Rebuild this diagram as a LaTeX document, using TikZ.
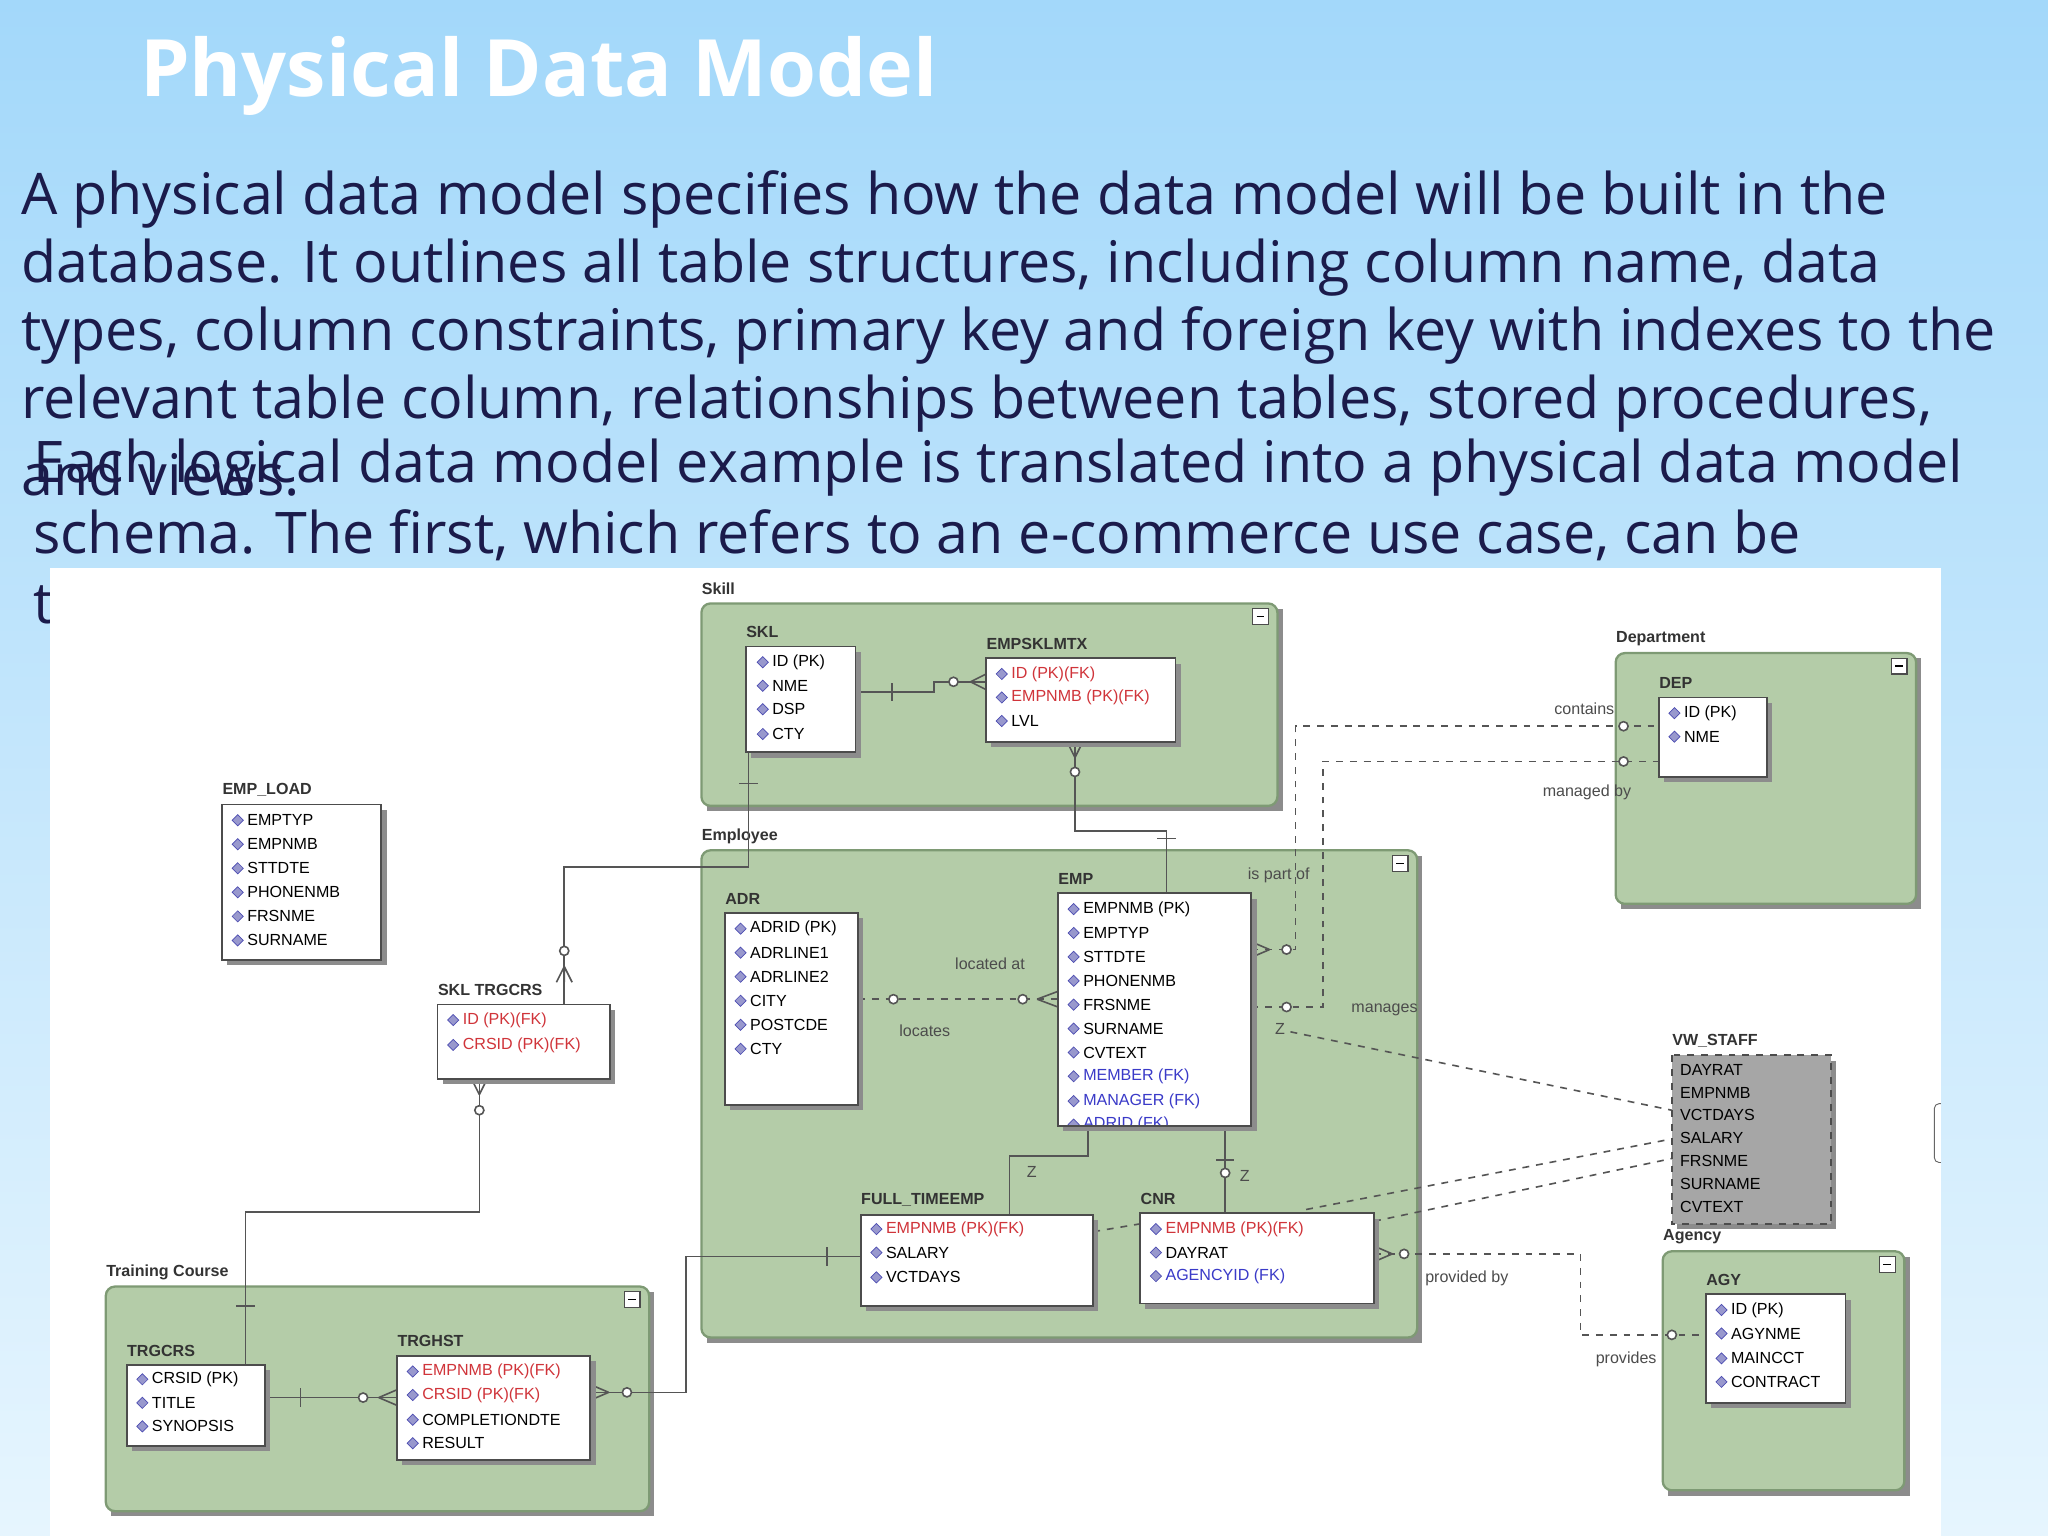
\documentclass[tikz,border=0pt]{standalone}
\usepackage{fontspec}
\setmainfont{Open Sans}
\newfontfamily\dfont{Liberation Sans}
\usetikzlibrary{shapes.geometric}
\definecolor{navy}{HTML}{1B1B4B}
\definecolor{grp}{HTML}{B4CCA8}
\definecolor{grpb}{HTML}{7E9A74}
\definecolor{fkred}{HTML}{D0343A}
\definecolor{fkblue}{HTML}{3A3AC8}
\definecolor{ln}{HTML}{555555}
\definecolor{sky}{HTML}{A3D8FA}
\definecolor{skyb}{HTML}{E6F5FE}
\tikzset{
 grpbox/.style={fill=grp,draw=grpb,line width=1pt,rounded corners=4pt},
 tblbox/.style={fill=white,draw=black!70,line width=0.8pt},
 shd/.style={fill=black!45},
 lbl/.style={font=\dfont\fontsize{7}{8}\selectfont\bfseries,anchor=west,inner sep=0pt,text=black!80},
 rowt/.style={font=\dfont\fontsize{7}{8}\selectfont,anchor=west,inner sep=0pt},
 ico/.style={diamond,fill=blue!35!gray!60,draw=blue!40!gray,line width=0.3pt,inner sep=0pt,minimum size=5pt},
 con/.style={draw=ln,line width=0.7pt},
 dcon/.style={draw=ln,line width=0.7pt,dashed},
 ctext/.style={font=\dfont\fontsize{7}{8}\selectfont,text=black!70,inner sep=0pt},
 body/.style={font=\fontsize{25}{30}\selectfont,text=navy,anchor=west,inner sep=0pt},
}
\newcommand\grpb[6]{% name, x1,y1,x2,y2,label
 \fill[shd] (#2+4,#3+4) rectangle (#4+4,#5+4);
 \draw[grpbox] (#2,#3) rectangle (#4,#5);
 \draw[fill=white,draw=black!70,line width=0.5pt] (#4-19,#3+4) rectangle (#4-7,#3+16);
 \draw[line width=0.6pt] (#4-16,#3+10) -- (#4-10,#3+10);
 \node[lbl] (#1) at (#2,#3-11) {#6};}
\newcommand\tbl[6]{%
 \fill[shd] (#2+4,#3+4) rectangle (#4+4,#5+4);
 \draw[tblbox] (#2,#3) rectangle (#4,#5);
 \node[lbl] (#1) at (#2,#3-11) {#6};}
\newcommand\rw[4]{\node[ico] at (#1+6,#2) {}; \node[rowt,text=#3] at (#1+13,#2) {#4};}
\newcommand\cbar[2]{\draw[con] (#1,#2-7) -- (#1,#2+7);}
\newcommand\vbar[2]{\draw[con] (#1-7,#2) -- (#1+7,#2);}
\newcommand\ocir[2]{\draw[con,fill=white] (#1,#2) circle (3.5);}
\begin{document}
\begin{tikzpicture}[x={(0.02cm,0)},y={(0,-0.02cm)}]
\useasboundingbox (0,0) rectangle (1568,1176);
\shade[top color=sky, bottom color=skyb] (0,0) rectangle (1568,1176);
\node[anchor=west,inner sep=0pt,text=white,font=\fontsize{34.5}{40}\selectfont\bfseries] (title) at (107,58) {Physical Data Model};
\node[body] (t1) at (16,153) {A physical data model specifies how the data model will be built in the};
\node[body] (t2) at (16,205) {database. It outlines all table structures, including column name, data};
\node[body] (t3) at (16,257) {types, column constraints, primary key and foreign key with indexes to the};
\node[body] (t4) at (16,309) {relevant table column, relationships between tables, stored procedures,};
\node[body] (t5) at (16,363) {and views.};
\node[body] (t6) at (25,358) {Each logical data model example is translated into a physical data model};
\node[body] (t7) at (25,410) {schema. The first, which refers to an e-commerce use case, can be};
\node[body] (t8) at (25,463) {t};
\fill[white] (38,435) rectangle (1486,1176);
% groups
\grpb{gskill}{537}{462}{978}{617}{Skill}
\grpb{gdep}{1237}{500}{1467}{692}{Department}
\grpb{gemp}{537}{651}{1085}{1024}{Employee}
\grpb{gtrain}{81}{985}{497}{1157}{Training Course}
\grpb{gagy}{1273}{958}{1458}{1141}{Agency}
% connectors
\draw[con] (655,530) -- (715,530) -- (715,522) -- (755,522);
\cbar{683}{530}\ocir{730}{522}
\draw[con] (743,522) -- (755,516) (743,522) -- (755,528);
\draw[con] (823,568) -- (823,636) -- (893,636) -- (893,684);
\ocir{823}{591}\draw[con] (823,580) -- (817,568) (823,580) -- (829,568);\vbar{893}{642}
\draw[con] (573,576) -- (573,664) -- (432,664) -- (432,769);
\vbar{573}{600}\ocir{432}{728}\draw[con] (432,740) -- (426,752) (432,740) -- (438,752) (432,740)--(432,752);
\draw[con] (367,826) -- (367,928) -- (188,928) -- (188,1045);
\ocir{367}{850}\draw[con] (367,838) -- (361,826) (367,838) -- (373,826);\vbar{188}{1000}
\draw[con] (203,1070) -- (304,1070);
\cbar{230}{1070}\ocir{278}{1070}\draw[con] (290,1070) -- (304,1064) (290,1070) -- (304,1076);
\draw[con] (452,1066) -- (525,1066) -- (525,962) -- (659,962);
\ocir{480}{1066}\draw[con] (466,1066) -- (452,1060) (466,1066) -- (452,1072);\cbar{633}{962}
\draw[dcon] (657,765) -- (810,765);
\ocir{684}{765}\draw[con] (794,765) -- (810,759) (794,765) -- (810,771);\ocir{783}{765}
\node[ctext] (la) at (758,738) {located at};
\node[ctext] (lb) at (708,789) {locates};
\draw[dcon] (958,727) -- (992,727) -- (992,556) -- (1270,556);
\draw[dcon] (958,771) -- (1013,771) -- (1013,583) -- (1270,583);
\ocir{985}{727}\draw[con] (972,727) -- (958,721) (972,727) -- (958,733);\ocir{1243}{556}
\ocir{985}{771}\ocir{1243}{583}
\node[ctext] (lc) at (1213,543) {contains};
\node[ctext] (ld) at (1215,607) {managed by};
\node[ctext] (le) at (979,670) {is part of};
\node[ctext] (lf) at (1060,773) {manages};
\draw[con] (833,862) -- (833,885) -- (773,885) -- (773,930);
\cbar{773}{893}\node[ctext] (z1) at (790,897) {Z};
\draw[con] (938,862) -- (938,930);
\vbar{938}{888}\ocir{938}{898}\node[ctext] (z2) at (953,900) {Z};
\node[ctext] (z3) at (980,788) {Z};
\draw[dcon] (988,790) -- (1280,850);
\draw[dcon] (1000,926) -- (1280,872);
\draw[dcon] (1052,935) -- (1280,887);
\draw[dcon] (837,943) -- (873,937);
\draw[dcon] (1052,960) -- (1210,960) -- (1210,1022) -- (1306,1022);
\draw[con] (1066,960) -- (1052,954) (1066,960) -- (1052,966);\ocir{1075}{960}\ocir{1280}{1022}
\node[ctext] (lg) at (1123,979) {provided by};
\node[ctext] (lh) at (1245,1041) {provides};
% tables
\tbl{skl}{571}{495}{655}{576}{SKL}
\rw{578}{507}{black}{ID (PK)}\rw{578}{525}{black}{NME}\rw{578}{543}{black}{DSP}\rw{578}{562}{black}{CTY}
\tbl{esm}{755}{504}{900}{568}{EMPSKLMTX}
\rw{761}{516}{fkred}{ID (PK)(FK)}\rw{761}{534}{fkred}{EMPNMB (PK)(FK)}\rw{761}{552}{black}{LVL}
\tbl{dep}{1270}{534}{1353}{595}{DEP}
\rw{1276}{546}{black}{ID (PK)}\rw{1276}{564}{black}{NME}
\tbl{eload}{170}{616}{292}{735}{EMP\_LOAD}
\foreach \t [count=\i from 0] in {EMPTYP,EMPNMB,STTDTE,PHONENMB,FRSNME,SURNAME}{\rw{176}{628+18.4*\i}{black}{\t}}
\tbl{adr}{555}{699}{657}{846}{ADR}
\foreach \t [count=\i from 0] in {ADRID (PK),ADRLINE1,ADRLINE2,CITY,POSTCDE,CTY}{\rw{561}{711+18.4*\i}{black}{\t}}
\tbl{emp}{810}{684}{958}{862}{EMP}
\foreach \t [count=\i from 0] in {EMPNMB (PK),EMPTYP,STTDTE,PHONENMB,FRSNME,SURNAME,CVTEXT}{\rw{816}{696+18.3*\i}{black}{\t}}
\rw{816}{824}{fkblue}{MEMBER (FK)}\rw{816}{843}{fkblue}{MANAGER (FK)}
\begin{scope}\clip (811,852) rectangle (957,861);\rw{816}{861}{fkblue}{ADRID (FK)}\end{scope}
\tbl{sklt}{335}{769}{467}{826}{SKL TRGCRS}
\rw{341}{781}{fkred}{ID (PK)(FK)}\rw{341}{800}{fkred}{CRSID (PK)(FK)}
\fill[shd] (1284,812) rectangle (1406,941);
\draw[fill=black!35,draw=black!70,dashed,line width=0.8pt] (1280,808) rectangle (1402,937);
\node[lbl] (vw) at (1280,797) {VW\_STAFF};
\foreach \t [count=\i from 0] in {DAYRAT,EMPNMB,VCTDAYS,SALARY,FRSNME,SURNAME,CVTEXT}{\node[rowt] at (1286,819+17.5*\i) {\t};}
\tbl{fte}{659}{930}{837}{1000}{FULL\_TIMEEMP}
\rw{665}{941}{fkred}{EMPNMB (PK)(FK)}\rw{665}{959}{black}{SALARY}\rw{665}{978}{black}{VCTDAYS}
\tbl{cnr}{873}{929}{1052}{998}{CNR}
\rw{879}{941}{fkred}{EMPNMB (PK)(FK)}\rw{879}{959}{black}{DAYRAT}\rw{879}{977}{fkblue}{AGENCYID (FK)}
\tbl{agy}{1306}{991}{1413}{1074}{AGY}
\rw{1312}{1003}{black}{ID (PK)}\rw{1312}{1021}{black}{AGYNME}\rw{1312}{1040}{black}{MAINCCT}\rw{1312}{1058}{black}{CONTRACT}
\tbl{trg}{97}{1045}{203}{1107}{TRGCRS}
\rw{103}{1056}{black}{CRSID (PK)}\rw{103}{1074}{black}{TITLE}\rw{103}{1092}{black}{SYNOPSIS}
\tbl{trh}{304}{1038}{452}{1118}{TRGHST}
\rw{310}{1050}{fkred}{EMPNMB (PK)(FK)}\rw{310}{1068}{fkred}{CRSID (PK)(FK)}\rw{310}{1087}{black}{COMPLETIONDTE}\rw{310}{1105}{black}{RESULT}
\draw[black!60,rounded corners=2pt] (1486,845) -- (1481,845) -- (1481,890) -- (1486,890);
\end{tikzpicture}
\end{document}
